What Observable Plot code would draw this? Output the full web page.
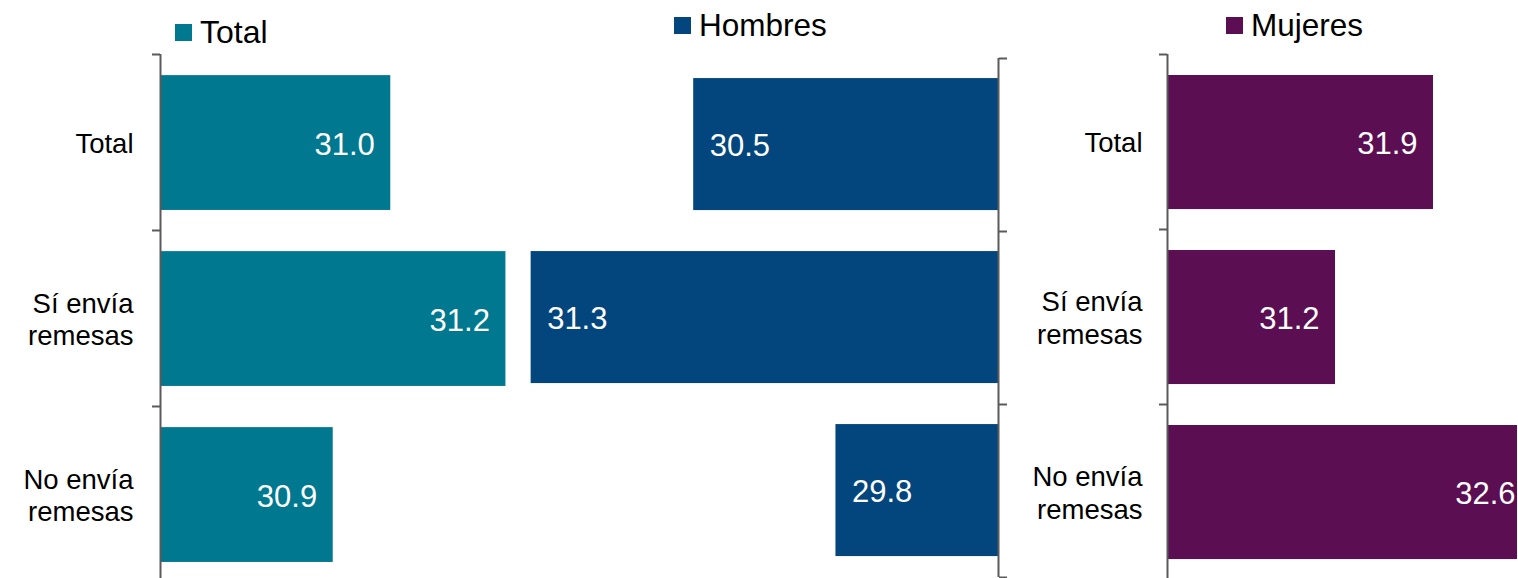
<!DOCTYPE html>
<html>
<head>
<meta charset="utf-8">
<script src="https://cdn.jsdelivr.net/npm/d3@7"></script>
<script src="https://cdn.jsdelivr.net/npm/@observablehq/plot@0.6"></script>
<style>
  html, body { margin: 0; padding: 0; background: #fff; overflow: hidden; }
  #wrap { position: relative; width: 1518px; height: 578px; overflow: hidden; font-family: "Liberation Sans", Arial, sans-serif; }
  .panel { position: absolute; top: 0; }
  .panel svg { overflow: hidden; }
  .legend { position: absolute; display: flex; align-items: center; font-size: 30px; color: #000; white-space: nowrap; }
  .legend .sw { display: inline-block; width: 17px; height: 17px; margin-right: 8px; }
</style>
</head>
<body>
<div id="wrap"></div>
<script>
// ---- data ----
const categories = ["Total", "Sí envía remesas", "No envía remesas"];
const categoryLabels = ["Total", "Sí envía\nremesas", "No envía\nremesas"];
const seriesNames = ["Total", "Hombres", "Mujeres"];
const totalValues = [31.0, 31.2, 30.9];
const menValues = [30.5, 31.3, 29.8];
const womenValues = [31.9, 31.2, 32.6];
const colors = ["#00788f", "#02467d", "#5b0f52"];

const wrap = document.getElementById("wrap");
const font = "Liberation Sans, Arial, sans-serif";
const axisColor = "#5a5a5a";

function rows(values) {
  return categories.map((c, i) => ({category: c, label: categoryLabels[i], i, value: values[i]}));
}

function panel({values, color, domain, reverse, width, marginLeft, marginRight, marginTop, height, marginBottom, inset0, inset1, side, showLabels, labelOffset}) {
  const data = rows(values);
  const base = domain[0];
  const marks = [
    Plot.rect(data, {
      x1: () => base, x2: "value",
      y1: d => d.i + inset0, y2: d => d.i + inset1,
      fill: color, clip: true
    }),
    Plot.ruleX([base], {stroke: axisColor, strokeWidth: 2}),
    Plot.axisY({anchor: side, ticks: [0, 1, 2, 3], tickFormat: () => "", tickSize: 8,
      stroke: axisColor, strokeWidth: 2, strokeOpacity: 1}),
    Plot.text(data, {
      x: "value", y: d => d.i + (inset0 + inset1) / 2 + 0.01,
      text: d => d.value.toFixed(1),
      fill: "white", fontSize: 31, fontFamily: font,
      textAnchor: reverse ? "start" : "end",
      dx: reverse ? 16 : -16
    })
  ];
  if (showLabels) {
    marks.push(Plot.text(data, {
      x: () => base, y: d => d.i + 0.5, text: "label",
      textAnchor: "end", dx: -labelOffset, fontSize: 27.5, fontFamily: font,
      fill: "#000", lineHeight: 1.18
    }));
  }
  return Plot.plot({
    width, height, marginLeft, marginRight, marginTop, marginBottom,
    style: {background: "transparent", fontFamily: font, overflow: "hidden"},
    x: {domain, reverse, axis: null},
    y: {domain: [0, 3], reverse: true, axis: null},
    marks
  });
}

const p1 = panel({values: totalValues, color: colors[0], domain: [30.6, 31.3], reverse: false,
  width: 600, marginLeft: 160, marginRight: 37, marginTop: 54, height: 582, marginBottom: 0,
  inset0: 0.12, inset1: 0.886, side: "left", showLabels: true, labelOffset: 27});
const p2 = panel({values: menValues, color: colors[1], domain: [29.0, 31.5], reverse: true,
  width: 530, marginLeft: 10, marginRight: 12, marginTop: 58, height: 578, marginBottom: 1,
  inset0: 0.116, inset1: 0.879, side: "right", showLabels: false});
const p3 = panel({values: womenValues, color: colors[2], domain: [30.0, 32.5], reverse: false,
  width: 518, marginLeft: 167, marginRight: 1, marginTop: 54, height: 579, marginBottom: 0,
  inset0: 0.12, inset1: 0.886, side: "left", showLabels: true, labelOffset: 25});

[[p1, 0], [p2, 480], [p3, 1000]].forEach(([p, l]) => {
  const d = document.createElement("div");
  d.className = "panel";
  d.style.left = l + "px";
  d.appendChild(p);
  wrap.appendChild(d);
});

// legends
const legendPos = [{left: 175, top: 14, size: 32}, {left: 674, top: 7, size: 31.5}, {left: 1226, top: 7, size: 31.5}];
seriesNames.forEach((name, i) => {
  const lg = document.createElement("div");
  lg.className = "legend";
  lg.style.left = legendPos[i].left + "px";
  lg.style.top = legendPos[i].top + "px";
  lg.style.fontSize = legendPos[i].size + "px";
  const sw = document.createElement("span");
  sw.className = "sw";
  sw.style.background = colors[i];
  const tx = document.createElement("span");
  tx.textContent = name;
  lg.appendChild(sw);
  lg.appendChild(tx);
  wrap.appendChild(lg);
});
</script>
</body>
</html>
